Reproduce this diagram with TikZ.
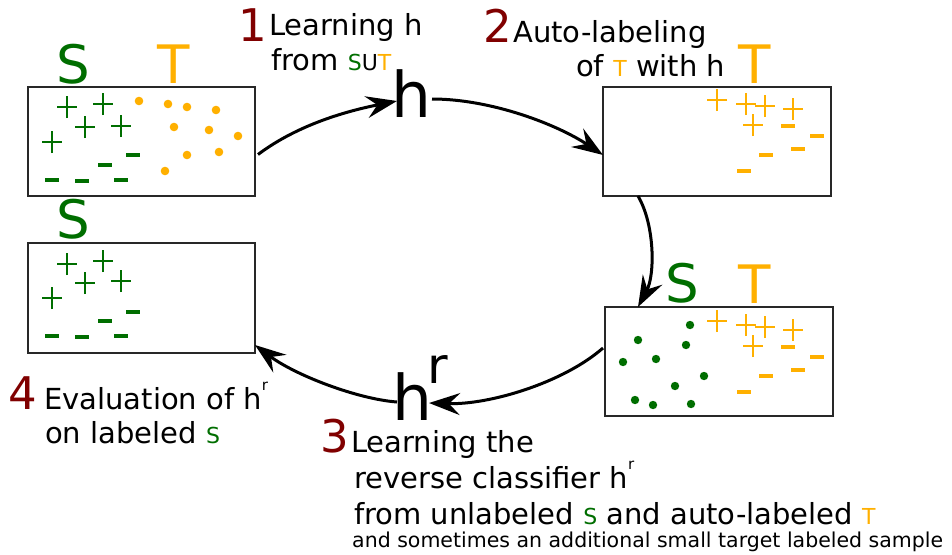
\documentclass[tikz,border=0pt]{standalone}
\usepackage{fontspec}
\setmainfont{DejaVu Sans}
\usetikzlibrary{arrows.meta}
\definecolor{sgreen}{RGB}{0,110,0}
\definecolor{torange}{RGB}{255,176,0}
\definecolor{dred}{RGB}{128,0,0}
\definecolor{boxgray}{RGB}{40,40,40}
\newcommand\smlc[2]{{\fontsize{22}{22}\selectfont\color{#1}#2}}
\newcommand\tsup{\raisebox{19pt}{\fontsize{15}{15}\selectfont r}}
\begin{document}
\begin{tikzpicture}[x=1pt,y=-1pt,
  box/.style={draw=boxgray, line width=2pt, fill=white, minimum width=227pt, minimum height=109pt, inner sep=0pt, outer sep=0pt},
  biglbl/.style={inner sep=0pt, anchor=base, font=\fontsize{53}{53}\selectfont},
  bigh/.style={inner sep=0pt, anchor=base west, font=\fontsize{63}{63}\selectfont},
  num/.style={inner sep=0pt, anchor=base west, text=dred, font=\fontsize{45}{45}\selectfont},
  txt/.style={inner sep=0pt, anchor=base west, font=\fontsize{29}{34}\selectfont},
  smltxt/.style={inner sep=0pt, anchor=base west, font=\fontsize{20.5}{24}\selectfont},
  arr/.style={line width=3pt, -{Stealth[length=31pt,width=22pt,inset=11pt]}},
  pls/.pic={\draw[line width=2.7pt] (-10pt,0pt)--(10pt,0pt) (0pt,-11pt)--(0pt,11pt);},
  mns/.pic={\fill (-7pt,-2.4pt) rectangle (7pt,2.4pt);}
]
\useasboundingbox (0,0) rectangle (952,554);
\fill[white] (0,0) rectangle (952,554);

% boxes
\node[box] (b1) at (141.5,141.5) {};
\node[box, minimum width=228pt] (b2) at (717,141.5) {};
\node[box, minimum height=110pt] (b3) at (141.5,298) {};
\node[box, minimum width=228pt] (b4) at (719,361.5) {};

% box labels
\node[biglbl, text=sgreen] (s1) at (73,83) {S};
\node[biglbl, text=torange] (t1) at (174,83) {T};
\node[biglbl, text=torange] (t2) at (755,83) {T};
\node[biglbl, text=sgreen] (s3) at (73,238) {S};
\node[biglbl, text=sgreen] (s4) at (682,302) {S};
\node[biglbl, text=torange] (t4) at (755,303) {T};

% box 1 contents
\foreach \x/\y in {67/107,103/104,85/127,121/126,52/142}
  \pic[color=sgreen] at (\x,\y) {pls};
\foreach \x/\y in {52/180,82/181,105/165,133/155,121/180}
  \pic[color=sgreen] at (\x,\y) {mns};
\foreach \x/\y in {139/101,168/104,187/107,216/110,174/127,209/130,238/136,187/155,219/152,165/171}
  \fill[torange] (\x,\y) circle[radius=4.3pt];

% box 3 contents
\foreach \x/\y in {67/264,103/261,85/283,121/281,52/298}
  \pic[color=sgreen] at (\x,\y) {pls};
\foreach \x/\y in {52/336,82/337,105/321,133/312,121/336}
  \pic[color=sgreen] at (\x,\y) {mns};

% box 2 and box 4 orange labels
\foreach \dy in {0,221}{
  \foreach \x/\y in {717/100,746/104,765/106,793/109,753/125}
    \pic[color=torange] at (\x,\y+\dy) {pls};
  \foreach \x/\y in {788/126,817/136,798/149,766/155,744/171}
    \pic[color=torange] at (\x,\y+\dy) {mns};
}
% box 4 green dots
\foreach \x/\y in {690/325,638/340,686/345,623/362,656/359,704/376,675/386,635/400,653/405,691/404}
  \fill[sgreen] (\x,\y) circle[radius=4.2pt];

% classifiers
\node[bigh] (h) at (391,117) {h};
\node[bigh] (hr) at (392,420) {h\kern-5pt\raisebox{37pt}{\fontsize{50}{50}\selectfont r}};

% connectors
\draw[arr] ([shift={(3,13)}]b1.east) .. controls +(40,-30) and +(-50,10) .. ([shift={(6,-16)}]h.base west);
\draw[arr] ([shift={(41,-18)}]h.base west) .. controls +(60,0) and +(-45,-30) .. ([shift={(0,13.5)}]b2.west);
\draw[arr] ([shift={(-79,0)}]b2.south) .. controls +(17,29) and +(17,-32) .. ([shift={(-81,0)}]b4.north);
\draw[arr] ([shift={(-2,-13.5)}]b4.west) .. controls +(-40,35) and +(60,2) .. ([shift={(37,-17)}]hr.base west);
\draw[arr] ([shift={(5,-18)}]hr.base west) .. controls +(-40,-3) and +(40,30) .. ([shift={(0,-8)}]b3.south east);

% step texts
\node[num] (n1) at (238,41) {1};
\node[txt] (t1a) at (269,35) {Learning h};
\node[txt] (t1b) at (271,70) {from \smlc{sgreen}{S}\smlc{black}{U}\smlc{torange}{T}};

\node[num] (n2) at (483,42) {2};
\node[txt] (t2a) at (513,42) {Auto-labeling};
\node[txt] (t2b) at (576,76) {of \smlc{torange}{T} with h};

\node[num] (n3) at (320,452) {3};
\node[txt] (t3a) at (351,452) {Learning the};
\node[txt] (t3b) at (354,488) {reverse classifier h\tsup};
\node[txt] (t3c) at (354,524) {from unlabeled \smlc{sgreen}{S} and auto-labeled \smlc{torange}{T}};
\node[smltxt] (t3d) at (352,547) {and sometimes an additional small target labeled sample};

\node[num] (n4) at (8,409) {4};
\node[txt] (t4a) at (44,409) {Evaluation of h\tsup};
\node[txt] (t4b) at (45,443) {on labeled \smlc{sgreen}{S}};
\end{tikzpicture}
\end{document}
